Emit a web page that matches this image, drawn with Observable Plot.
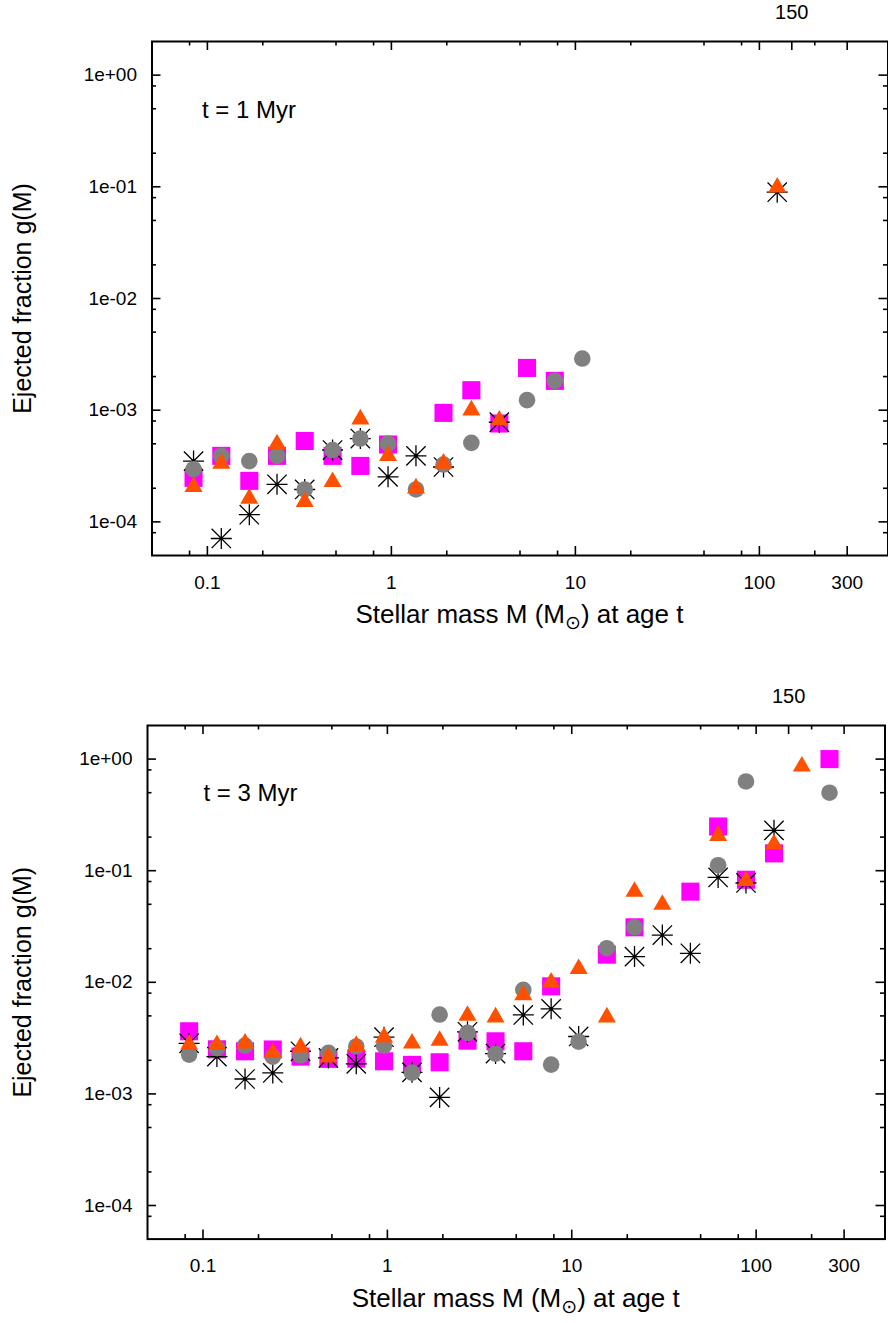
<!DOCTYPE html>
<html><head><meta charset="utf-8">
<script src="https://cdn.jsdelivr.net/npm/d3@7"></script>
<script src="https://cdn.jsdelivr.net/npm/@observablehq/plot@0.6"></script>
<style>
html,body{margin:0;padding:0;background:#fff;}
#chart svg{display:block;}
</style></head><body><div id="chart"></div>
<script>
// ---- data ----
const mass = [0.0841, 0.119, 0.169, 0.239, 0.338, 0.479, 0.678, 0.959, 1.36, 1.92, 2.72, 3.86,
              5.46, 7.73, 10.9, 15.5, 21.9, 31.0, 44.0, 62.2, 88.1, 125, 177, 250];

// t = 1 Myr
const t1Circle   = [2.96e-4, 3.9e-4, 3.5e-4, 3.9e-4, 1.95e-4, 4.4e-4, 5.57e-4, 5.03e-4, 1.95e-4, 3.26e-4, 5.1e-4, null,
                    1.23e-3, 1.83e-3, 2.9e-3, null, null, null, null, null, null, null, null, null];
const t1Square   = [2.48e-4, 3.9e-4, 2.33e-4, 3.9e-4, 5.3e-4, 3.9e-4, 3.17e-4, 4.93e-4, null, 9.46e-4, 1.51e-3, 7.6e-4,
                    2.39e-3, 1.83e-3, null, null, null, null, null, null, null, null, null, null];
const t1Triangle = [2.06e-4, 3.33e-4, 1.62e-4, 4.97e-4, 1.51e-4, 2.28e-4, 8.3e-4, 3.9e-4, 2.0e-4, 3.33e-4, 1.0e-3, 8.1e-4,
                    null, null, null, null, null, null, null, null, null, 0.099, null, null];
const t1Star     = [3.5e-4, 7.1e-5, 1.16e-4, 2.17e-4, 1.95e-4, 4.4e-4, 5.57e-4, 2.53e-4, 3.9e-4, 3.1e-4, null, 7.8e-4,
                    null, null, null, null, null, null, null, null, null, 0.0895, null, null];

// t = 3 Myr
const t3Circle   = [2.25e-3, 2.57e-3, 2.71e-3, 2.16e-3, 2.21e-3, 2.33e-3, 2.66e-3, 2.71e-3, 1.55e-3, 5.14e-3, 3.52e-3, 2.29e-3,
                    8.55e-3, 1.83e-3, 2.94e-3, 2.02e-2, 3.11e-2, null, null, 0.112, 0.63, null, null, 0.5];
const t3Square   = [3.64e-3, 2.51e-3, 2.41e-3, 2.5e-3, 2.16e-3, 2.06e-3, 2.07e-3, 1.96e-3, 1.82e-3, 1.92e-3, 3.0e-3, 2.96e-3,
                    2.41e-3, 9.2e-3, null, 1.77e-2, 3.11e-2, null, 6.49e-2, 0.249, 8.3e-2, 0.143, null, 1.0];
const t3Triangle = [2.77e-3, 2.75e-3, 2.84e-3, 2.33e-3, 2.62e-3, 2.13e-3, 2.7e-3, 3.22e-3, 2.84e-3, 3.0e-3, 5.03e-3, 4.86e-3,
                    7.7e-3, 1.0e-2, 1.32e-2, 4.86e-3, 6.49e-2, 4.97e-2, null, 0.206, 8.1e-2, 0.173, 0.86, null];
const t3Star     = [2.84e-3, 2.16e-3, 1.36e-3, 1.54e-3, 2.41e-3, 2.1e-3, 1.86e-3, 3.22e-3, 1.56e-3, 9.3e-4, 3.6e-3, 2.3e-3,
                    5.1e-3, 5.78e-3, 3.27e-3, null, 1.7e-2, 2.65e-2, 1.82e-2, 8.7e-2, 7.76e-2, 0.23, null, null];

// ---- axes ----
const xDomain = [0.05, 500];
const yDomain = [5e-5, 2];
const xMajorTicks = [0.1, 1, 10, 100, 300];
const xTickLabels = ["0.1", "1", "10", "100", "300"];
const xMinorTicks = [0.08, 0.2, 0.5, 0.8, 2, 5, 8, 20, 50, 80, 200];
const x2Ticks = [150];
const x2TickLabels = ["150"];
const yMajorTicks = [1, 0.1, 0.01, 0.001, 0.0001];
const yTickLabels = ["1e+00", "1e-01", "1e-02", "1e-03", "1e-04"];
const yMinorTicks = [0.8, 0.5, 0.2, 0.08, 0.05, 0.02, 0.008, 0.005, 0.002, 8e-4, 5e-4, 2e-4, 8e-5];
const xTitle = ["Stellar mass M (M", "⊙", ") at age t"];
const yTitle = "Ejected fraction g(M)";

const FONT = "'Liberation Sans', Arial, Helvetica, sans-serif";
const pts = vals => vals.map((v, i) => ({m: mass[i], v})).filter(d => d.v != null);

const asterisk = {
  draw(ctx, size) {
    const r = Math.sqrt(size / Math.PI);
    const d = r * 0.92;
    ctx.moveTo(-r, 0); ctx.lineTo(r, 0);
    ctx.moveTo(0, -r); ctx.lineTo(0, r);
    ctx.moveTo(-d, -d); ctx.lineTo(d, d);
    ctx.moveTo(-d, d); ctx.lineTo(d, -d);
  }
};

function panel({series, label, height, mt, mb, ml, mr, labelDx, labelDy}) {
  const W = 888;
  const ph = height - mt - mb, pw = W - ml - mr;
  const MAJ = 9, MIN = 4.5, TW = 1.6;
  const [circ, sq, tri, star] = series.map(pts);
  const svg = Plot.plot({
    width: W, height, marginTop: mt, marginBottom: mb, marginLeft: ml, marginRight: mr,
    x: {type: "log", domain: xDomain, axis: null},
    y: {type: "log", domain: yDomain, axis: null},
    style: {fontFamily: FONT, color: "black", background: "white", overflow: "visible"},
    marks: [
      // ticks (inward, mirrored)
      Plot.ruleX(xMajorTicks, {x: d => d, insetTop: ph - MAJ, stroke: "black", strokeWidth: TW}),
      Plot.ruleX(xMinorTicks, {x: d => d, insetTop: ph - MIN, stroke: "black", strokeWidth: TW}),
      Plot.ruleX(xMajorTicks.concat(x2Ticks), {x: d => d, insetBottom: ph - MAJ, stroke: "black", strokeWidth: TW}),
      Plot.ruleX(xMinorTicks, {x: d => d, insetBottom: ph - MIN, stroke: "black", strokeWidth: TW}),
      Plot.ruleY(yMajorTicks, {y: d => d, insetRight: pw - MAJ, stroke: "black", strokeWidth: TW}),
      Plot.ruleY(yMinorTicks, {y: d => d, insetRight: pw - MIN, stroke: "black", strokeWidth: TW}),
      Plot.ruleY(yMajorTicks, {y: d => d, insetLeft: pw - MAJ, stroke: "black", strokeWidth: TW}),
      Plot.ruleY(yMinorTicks, {y: d => d, insetLeft: pw - MIN, stroke: "black", strokeWidth: TW}),
      // tick labels
      Plot.text(xMajorTicks, {x: d => d, text: d => xTickLabels[xMajorTicks.indexOf(d)], frameAnchor: "bottom",
        lineAnchor: "middle", textAnchor: "middle", dy: 27, fontSize: 19, fill: "black"}),
      Plot.text(x2Ticks, {x: d => d, text: d => x2TickLabels[x2Ticks.indexOf(d)], frameAnchor: "top",
        lineAnchor: "middle", textAnchor: "middle", dy: -29, fontSize: 20, fill: "black"}),
      Plot.text(yMajorTicks, {y: d => d, text: d => yTickLabels[yMajorTicks.indexOf(d)], frameAnchor: "left",
        lineAnchor: "middle", textAnchor: "end", dx: -15, fontSize: 19, fill: "black"}),
      // y title
      Plot.text([yTitle], {text: d => d, frameAnchor: "left", rotate: -90, textAnchor: "middle", lineAnchor: "middle",
        dx: -(ml - 22), fontSize: 25, fill: "black"}),
      // panel label
      Plot.text([label], {text: d => d, frameAnchor: "top-left", textAnchor: "start", lineAnchor: "middle",
        dx: labelDx, dy: labelDy, fontSize: 24, fill: "black"}),
      // data: squares, asterisks, circles, triangles
      Plot.dot(sq, {x: "m", y: "v", symbol: "square", r: 10.2, fill: "#ff00ff", stroke: "none"}),
      Plot.dot(star, {x: "m", y: "v", symbol: asterisk, r: 10.5, fill: "none", stroke: "black", strokeWidth: 1.3}),
      Plot.dot(star, {x: "m", y: "v", r: 1.5, fill: "black", stroke: "none"}),
      Plot.dot(circ, {x: "m", y: "v", symbol: "circle", r: 8.3, fill: "#808080", stroke: "none"}),
      Plot.dot(tri, {x: "m", y: "v", symbol: "triangle", r: 6.7, fill: "#ff5000", stroke: "none"}),
      Plot.frame({stroke: "black", strokeWidth: 2})
    ]
  });
  // x title with subscript sun symbol
  const t = d3.select(svg).append("text")
    .attr("x", ml + pw / 2).attr("y", height - mb + 68)
    .attr("text-anchor", "middle").attr("font-family", FONT).attr("font-size", 26).attr("fill", "black");
  t.append("tspan").text(xTitle[0]);
  t.append("tspan").attr("dy", 6).attr("font-size", 19).attr("font-family", "'DejaVu Sans', sans-serif").text(xTitle[1]);
  t.append("tspan").attr("dy", -6).text(xTitle[2]);
  return svg;
}

const root = document.getElementById("chart");
root.appendChild(panel({series: [t1Circle, t1Square, t1Triangle, t1Star], label: "t = 1 Myr",
  height: 661, mt: 41, mb: 106, ml: 151.5, mr: 0.5, labelDx: 50, labelDy: 69}));
root.appendChild(panel({series: [t3Circle, t3Square, t3Triangle, t3Star], label: "t = 3 Myr",
  height: 662, mt: 64, mb: 84.4, ml: 147, mr: 3.5, labelDx: 56, labelDy: 68}));
</script></body></html>
